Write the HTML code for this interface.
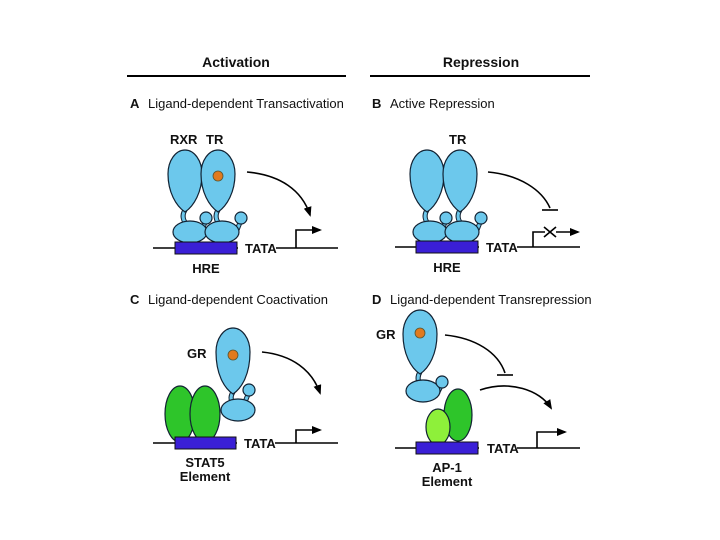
<!DOCTYPE html>
<html><head><style>body{margin:0;background:#fff}svg{display:block}text{font-family:"Liberation Sans",sans-serif;fill:#111}</style></head><body>
<svg width="720" height="540" viewBox="0 0 720 540" xmlns="http://www.w3.org/2000/svg">
<defs>
<marker id="ah" markerWidth="10" markerHeight="8" refX="8" refY="4" orient="auto" markerUnits="userSpaceOnUse"><path d="M0,0 L10,4 L0,8 Z" fill="#000"/></marker>
</defs>
<g font-weight="bold" font-size="14" text-anchor="middle">
<text x="236" y="67">Activation</text><text x="481" y="67">Repression</text>
</g>
<line x1="127" y1="76" x2="346" y2="76" stroke="#000" stroke-width="2"/>
<line x1="370" y1="76" x2="590" y2="76" stroke="#000" stroke-width="2"/>
<g font-size="13">
<text x="130" y="108" font-weight="bold">A</text><text x="148" y="108">Ligand-dependent Transactivation</text>
<text x="372" y="108" font-weight="bold">B</text><text x="390" y="108">Active Repression</text>
<text x="130" y="304" font-weight="bold">C</text><text x="148" y="304">Ligand-dependent Coactivation</text>
<text x="372" y="304" font-weight="bold">D</text><text x="390" y="304">Ligand-dependent Transrepression</text>
</g>
<g fill="none" stroke-linecap="round">
<g stroke="#123" stroke-width="5">
<path d="M185,210 Q180,218 188,226"/><path d="M218,210 Q213,218 221,226"/>
<path d="M206,220 L202,230"/><path d="M241,220 L237,230"/>
<path d="M427,210 Q422,218 430,226"/><path d="M460,210 Q455,218 463,226"/>
<path d="M446,220 L442,230"/><path d="M481,220 L477,230"/>
<path d="M233,392 Q228,400 236,406"/><path d="M249,392 L245,402"/>
<path d="M420,372 Q415,380 423,388"/><path d="M442,384 L438,392"/>
</g>
<g stroke="#6cc8ec" stroke-width="3">
<path d="M185,210 Q180,218 188,226"/><path d="M218,210 Q213,218 221,226"/>
<path d="M206,220 L202,230"/><path d="M241,220 L237,230"/>
<path d="M427,210 Q422,218 430,226"/><path d="M460,210 Q455,218 463,226"/>
<path d="M446,220 L442,230"/><path d="M481,220 L477,230"/>
<path d="M233,392 Q228,400 236,406"/><path d="M249,392 L245,402"/>
<path d="M420,372 Q415,380 423,388"/><path d="M442,384 L438,392"/>
</g>
</g>
<g stroke="#123" stroke-width="1.2" fill="#6cc8ec">
<ellipse cx="190" cy="232" rx="17" ry="11"/><ellipse cx="222" cy="232" rx="17" ry="11"/>
<circle cx="206" cy="218" r="6"/><circle cx="241" cy="218" r="6"/>
<path d="M185,212 C176,206 168,192 168,174 A17 24 0 0 1 202,174 C202,192 194,206 185,212 Z"/>
<path d="M218,212 C209,206 201,192 201,174 A17 24 0 0 1 235,174 C235,192 227,206 218,212 Z"/>
<ellipse cx="430" cy="232" rx="17" ry="11"/><ellipse cx="462" cy="232" rx="17" ry="11"/>
<circle cx="446" cy="218" r="6"/><circle cx="481" cy="218" r="6"/>
<path d="M427,212 C418,206 410,192 410,174 A17 24 0 0 1 444,174 C444,192 436,206 427,212 Z"/>
<path d="M460,212 C451,206 443,192 443,174 A17 24 0 0 1 477,174 C477,192 469,206 460,212 Z"/>
<ellipse cx="238" cy="410" rx="17" ry="11"/>
<circle cx="249" cy="390" r="6"/>
<path d="M233,394 C224,388 216,374 216,352 A17 24 0 0 1 250,352 C250,374 242,388 233,394 Z"/>
<ellipse cx="423" cy="391" rx="17" ry="11"/>
<circle cx="442" cy="382" r="6"/>
<path d="M420,374 C411,368 403,354 403,334 A17 24 0 0 1 437,334 C437,354 429,368 420,374 Z"/>
</g>
<g fill="#e07a1e" stroke="#553" stroke-width="0.8">
<circle cx="218" cy="176" r="5"/><circle cx="233" cy="355" r="5"/><circle cx="420" cy="333" r="5"/>
</g>
<g stroke="#123" stroke-width="1.2">
<ellipse cx="180" cy="414" rx="15" ry="28" fill="#2ec52a"/>
<ellipse cx="205" cy="414" rx="15" ry="28" fill="#2ec52a"/>
<ellipse cx="458" cy="415" rx="14" ry="26" fill="#2ec52a"/>
<ellipse cx="438" cy="427" rx="12" ry="18" fill="#8ef03a"/>
</g>
<g stroke="#000" stroke-width="1.6" fill="none">
<line x1="153" y1="248" x2="338" y2="248"/><line x1="395" y1="247" x2="580" y2="247"/>
<line x1="153" y1="443" x2="338" y2="443"/><line x1="395" y1="448" x2="580" y2="448"/>
<path d="M296,248 V230 H320" marker-end="url(#ah)"/>
<path d="M533,247 V232 H545"/><path d="M556,232 H578" marker-end="url(#ah)"/>
<path d="M296,443 V430 H320" marker-end="url(#ah)"/>
<path d="M537,448 V432 H565" marker-end="url(#ah)"/>
<path d="M247,172 C280,175 302,190 310,215" marker-end="url(#ah)"/>
<path d="M488,172 C520,175 542,190 550,208"/><line x1="542" y1="210" x2="558" y2="210"/>
<path d="M544,227 L556,237 M556,227 L544,237"/>
<path d="M262,352 C292,355 312,370 320,393" marker-end="url(#ah)"/>
<path d="M445,335 C475,338 498,352 505,373"/><line x1="497" y1="375" x2="513" y2="375"/>
<path d="M480,390 C510,380 540,390 551,408" marker-end="url(#ah)"/>
</g>
<g fill="#3a1fd6" stroke="#111" stroke-width="1">
<rect x="175" y="242" width="62" height="12"/><rect x="416" y="241" width="62" height="12"/>
<rect x="175" y="437" width="61" height="12"/><rect x="416" y="442" width="62" height="12"/>
</g>
<g fill="#fff"><rect x="238" y="240" width="38" height="16"/><rect x="479" y="239" width="38" height="16"/><rect x="237" y="435" width="38" height="16"/><rect x="479" y="440" width="38" height="16"/></g>
<g font-weight="bold" font-size="13">
<text x="245" y="253">TATA</text><text x="486" y="252">TATA</text><text x="244" y="448">TATA</text><text x="487" y="453">TATA</text>
<text x="170" y="144">RXR</text><text x="206" y="144">TR</text><text x="449" y="144">TR</text>
<text x="187" y="358">GR</text><text x="376" y="339">GR</text>
</g>
<g font-weight="bold" font-size="13" text-anchor="middle">
<text x="206" y="273">HRE</text><text x="447" y="272">HRE</text>
<text x="205" y="467">STAT5</text><text x="205" y="481">Element</text>
<text x="447" y="472">AP-1</text><text x="447" y="486">Element</text>
</g>
</svg>
</body></html>
